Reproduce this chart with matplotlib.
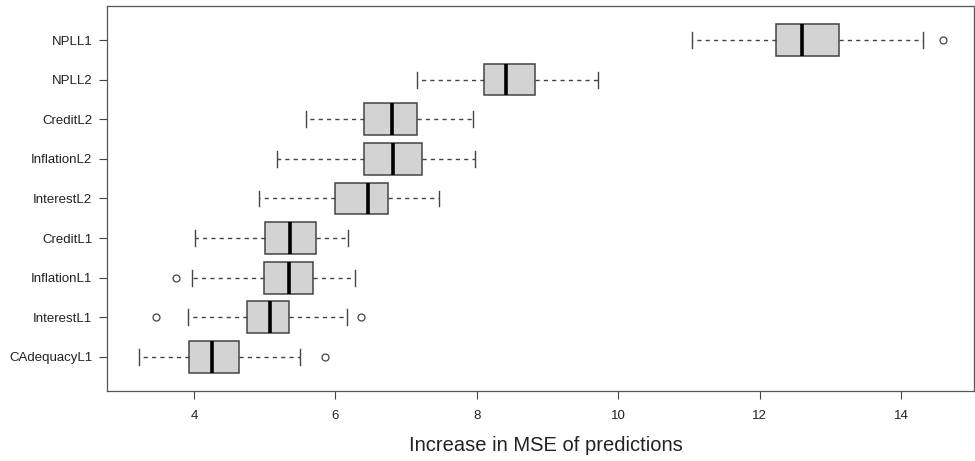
import matplotlib
matplotlib.use('Agg')
import matplotlib.pyplot as plt

plt.rcParams['font.family'] = ['Liberation Sans', 'DejaVu Sans']

# Variables, bottom to top
labels = ['CAdequacyL1', 'InterestL1', 'InflationL1', 'CreditL1', 'InterestL2',
          'InflationL2', 'CreditL2', 'NPLL2', 'NPLL1']

# Five-number summaries
whislo = [3.23, 3.92, 3.97, 4.02, 4.92, 5.17, 5.58, 7.16, 11.05]
q1 = [3.93, 4.75, 4.99, 5.01, 5.99, 6.40, 6.41, 8.11, 12.23]
med = [4.26, 5.08, 5.34, 5.36, 6.46, 6.82, 6.80, 8.41, 12.60]
q3 = [4.64, 5.35, 5.69, 5.72, 6.74, 7.23, 7.16, 8.82, 13.13]
whishi = [5.50, 6.17, 6.28, 6.18, 7.46, 7.97, 7.95, 9.71, 14.31]
outliers = [[5.85], [3.46, 6.36], [3.75], [], [], [], [], [], [14.60]]

stats = []
for i in range(len(labels)):
    stats.append(dict(label=labels[i], whislo=whislo[i], q1=q1[i], med=med[i],
                      q3=q3[i], whishi=whishi[i], fliers=outliers[i]))

fig = plt.figure(figsize=(9.75, 4.61), dpi=100)
ax = fig.add_axes([0.1097, 0.152, 0.889, 0.835])

edge = '#444444'
ax.bxp(stats, vert=False, widths=0.8, capwidths=0.4, patch_artist=True,
       boxprops=dict(facecolor='#d3d3d3', edgecolor=edge, linewidth=1.1),
       medianprops=dict(color='black', linewidth=2.6, solid_capstyle='butt'),
       whiskerprops=dict(color=edge, linewidth=1.0, linestyle=(0, (3, 3))),
       capprops=dict(color=edge, linewidth=1.0),
       flierprops=dict(marker='o', markersize=5, markerfacecolor='none',
                       markeredgecolor=edge, markeredgewidth=0.9))

ax.set_xlim(2.77, 15.03)
ax.set_ylim(0.14, 9.86)
ax.set_xticks([4, 6, 8, 10, 12, 14])
ax.set_xticklabels(['4', '6', '8', '10', '12', '14'])
ax.set_yticks(range(1, len(labels) + 1))
ax.set_yticklabels(labels)
ax.tick_params(axis='both', direction='out', length=5.5, width=0.8,
               color='#444444', labelsize=9.5, labelcolor='#222222', pad=5)
ax.tick_params(axis='x', pad=8)
for s in ax.spines.values():
    s.set_color('#555555')
    s.set_linewidth(0.9)

ax.set_xlabel('Increase in MSE of predictions', fontsize=14.5, color='#222222')
ax.xaxis.set_label_coords(0.506, -0.118)

fig.savefig('out.png', dpi=100)
